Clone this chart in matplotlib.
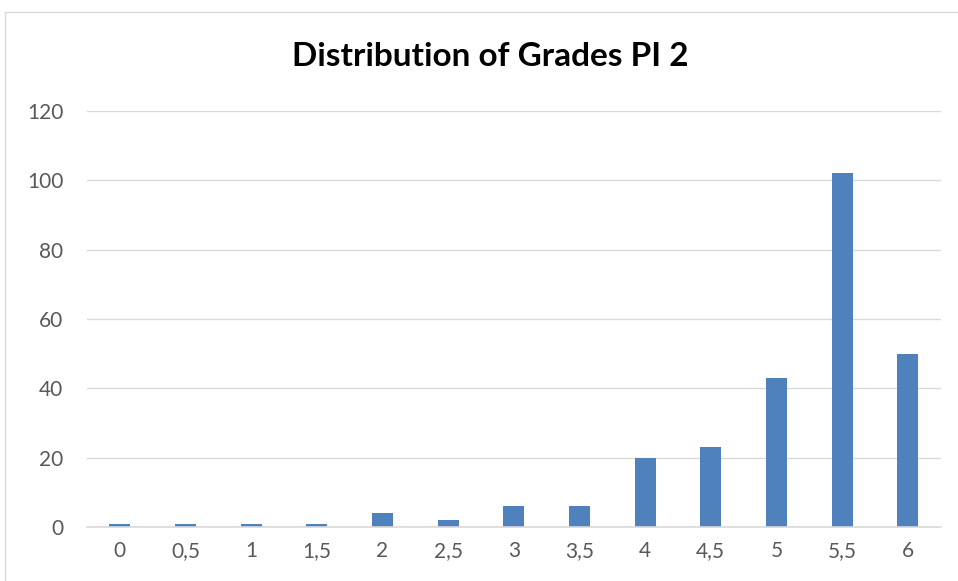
import matplotlib.pyplot as plt
from matplotlib.patches import Rectangle

grades = ["0", "0,5", "1", "1,5", "2", "2,5", "3", "3,5", "4", "4,5", "5", "5,5", "6"]
counts = [1, 1, 1, 1, 4, 2, 6, 6, 20, 23, 43, 102, 50]
yticks = [0, 20, 40, 60, 80, 100, 120]

plt.rcParams["font.family"] = ["Lato", "DejaVu Sans"]

fig = plt.figure(figsize=(9.58, 5.81), dpi=100)
ax = fig.add_axes([0.0908, 0.0929, 0.891, 0.716])

# chart border
fig.patches.append(Rectangle((5/958, -0.1), 1.1, 1 - 12/581 + 0.1,
                             transform=fig.transFigure, fill=False,
                             edgecolor="#D9D9D9", lw=1))

x = range(len(grades))
ax.bar(x, counts, width=0.32, color="#4F81BD", zorder=3)

ax.set_xlim(-0.5, len(grades) - 0.5)
ax.set_ylim(0, 120)
ax.set_yticks(yticks)
ax.set_xticks(list(x))
ax.set_xticklabels(grades)

ax.grid(axis="y", color="#D9D9D9", lw=1, zorder=0)
for s in ["top", "right", "left"]:
    ax.spines[s].set_visible(False)
ax.spines["bottom"].set_color("#D9D9D9")
ax.spines["bottom"].set_linewidth(1.2)
ax.spines["bottom"].set_zorder(4)

ax.tick_params(axis="both", length=0, labelsize=15, labelcolor="#595959")
ax.tick_params(axis="x", pad=10)
ax.tick_params(axis="y", pad=17)

fig.text(0.512, 1 - 57/581, "Distribution of Grades PI 2", ha="center", va="center",
         fontsize=24, fontweight="bold", color="black")

fig.savefig("out.png", dpi=100)
